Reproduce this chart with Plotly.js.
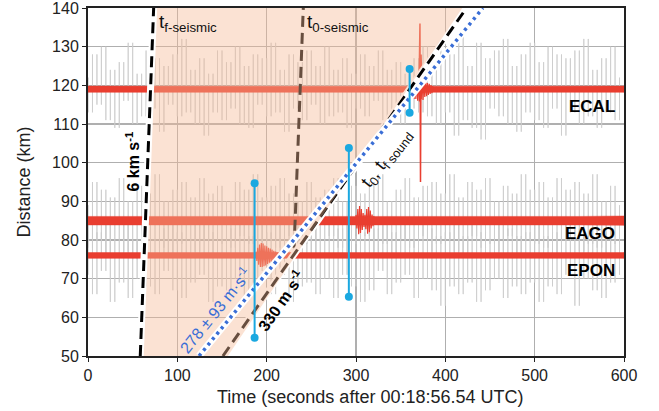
<!DOCTYPE html>
<html>
<head>
<meta charset="utf-8">
<script src="https://cdn.plot.ly/plotly-3.0.1.min.js"></script>
<style>html,body{margin:0;padding:0;background:#fff;}#chart{width:659px;height:411px;}</style>
</head>
<body>
<div id="chart"></div>
<script>
// ---------- data ----------
const stations = ["ECAL", "EAGO", "EPON"];
const stationDistance = [119, 85, 76];   // km
const sampleStep = 5;                     // s, sampling of seismic traces
// seismic (gray) trace peaks, km offset from station distance
const grayECAL = [3,-6,9,-4,11,-8,5,-10,7,-3,12,-9,4,-7,10,-5,8,-11,6,-4,
  9,-7,13,-6,5,-9,8,-12,4,-6,10,-8,7,-5,11,-9,6,-10,9,-4,
  8,-7,12,-6,5,-11,9,-5,7,-8,10,-4,6,-9,11,-7,5,-6,8,-10,
  4,-5,9,-7,6,-3,10,-8,5,-6,7,-9,4,-5,8,-6,11,-7,5,-9,
  10,-6,9,-12,14,-8,6,-10,12,-13,8,-5,10,-7,13,-9,6,-11,9,-6,
  12,-8,7,-10,11,-5,9,-12,8,-6,10,-9,13,-7,5,-10,8,-6,11,-8,3];
const grayEAGO = [4,-7,10,-5,8,-9,6,-4,11,-8,5,-10,9,-6,7,-4,12,-7,5,-9,
  8,-6,10,-4,6,-8,11,-5,7,-9,9,-6,5,-7,10,-4,8,-6,12,-8,
  6,-5,9,-7,11,-4,7,-8,5,-6,10,-9,6,-5,8,-4,11,-7,5,-8,
  9,-6,7,-4,10,-8,12,-6,5,-9,8,-5,11,-7,6,-4,9,-8,10,-6,
  7,-5,12,-8,6,-9,10,-4,8,-7,11,-6,5,-8,9,-4,7,-9,12,-5,
  8,-6,10,-7,6,-9,11,-5,8,-4,10,-8,7,-6,12,-7,5,-9,9,-6,4];
const grayEPON = [-5,8,-10,6,-4,9,-12,5,-7,8,-11,4,-6,9,-8,5,-10,7,-4,8,
  -9,6,-11,5,-7,8,-5,10,-12,6,-8,4,-9,7,-6,9,-11,5,-7,8,
  -4,6,-10,8,-5,9,-12,6,-8,5,-7,9,-10,4,-6,8,-11,7,-5,9,
  -8,5,-12,6,-9,7,-4,8,-10,6,-7,9,-5,4,-11,8,-6,7,-9,5,
  -13,6,-8,9,-10,5,-7,8,-12,6,-9,4,-6,9,-11,7,-8,5,-10,6,
  -7,9,-12,5,-8,6,-10,8,-5,9,-13,7,-6,5,-9,8,-11,6,-7,4,-5];
// infrasound (red) envelope half-widths, km, on a 50 s grid
const redT = [0,50,100,150,200,250,300,350,400,450,500,550,600];
const redHalfECAL = [0.8,0.75,0.75,0.75,0.75,0.75,0.75,0.75,0.8,0.8,0.8,0.8,0.8];
const redHalfEAGO = [1.1,1.1,1.0,1.0,1.0,1.0,1.0,1.1,1.0,1.0,1.1,1.1,1.2];
const redHalfEPON = [0.75,0.75,0.7,0.7,0.7,0.7,0.7,0.75,0.75,0.75,0.75,0.75,0.75];
// bursts (1 s samples, km offsets)
const burstECALStart = 362;
const burstECAL = [1,-1.5,2,-2.5,3,-2.5,3.2,-3,2.8,-3.2,3,-2.6,2.5,-2.8,2.2,-2,2.4,-1.8,1.6,-1.5,1.4,-1.2,1.1,-1,0.8];
const burstEAGOStart = 300;
const burstEAGO = [1.5,-2,3,-3.5,3.8,-3.2,3,-2.4,2,-1.6,1.5,-2.2,3,-3.4,3.5,-3,2.6,-2,1.6,-1.4,1.2];
const burstEPONStart = 188;
const burstEPON = [1,-1.4,2,-2.4,2.8,-3,3.2,-3,3.1,-2.8,2.6,-2.6,2.4,-2.2,2,-1.9,1.8,-1.6,1.5,-1.3,1.2,-1.1,1,-0.9,0.8];
const spikeECALT = [370.5,371.6,372.2,372.8,374];
const spikeECALOff = [0,17,-24,9,0];
// reference lines (time s, distance km)
const seis6T = [58.5, 73.5], seis6D = [50, 140];
const t0SeisT = [230.7, 241], t0SeisD = [78, 140];
const sound330T = [151, 423.7], sound330D = [50, 140];
const fit278T = [124.3, 442], fit278D = [50, 140];
const shadeT = [58.5, 73.5, 419, 156.5], shadeD = [50, 140, 140, 50];
// blue uncertainty bars
const barT = [186.5, 292, 360];
const barLo = [54.7, 65.3, 112.9];
const barHi = [94.7, 103.8, 124.2];
const xTicks = [0,100,200,300,400,500,600];
const yTicks = [50,60,70,80,90,100,110,120,130,140];

// ---------- build ----------
const RED = 'rgb(233,62,48)';
const traces = [];
// gray traces: each swing between successive peaks drawn as a vertical hairline
[grayECAL, grayEAGO, grayEPON].forEach((g, k) => {
  const c = stationDistance[k];
  const x = [], y = [];
  for (let i = 0; i < g.length - 1; i++) {
    const t = i * sampleStep;
    x.push(t, t, t, t); y.push(c, c + g[i], c + g[i + 1], c);
  }
  traces.push({x, y, mode: 'lines', line: {color: 'rgb(203,203,203)', width: 0.8}, hoverinfo: 'skip'});
});
function band(T, H, c) {
  const x = T.concat(T.slice().reverse());
  const y = T.map((_, i) => c + H[i]).concat(T.map((_, i) => c - H[i]).reverse());
  return {x, y, mode: 'lines', fill: 'toself', fillcolor: RED,
    line: {color: RED, width: 0.5}, hoverinfo: 'skip'};
}
function zig(start, vals, c) {
  return {x: vals.map((_, i) => start + i), y: vals.map(v => c + v), mode: 'lines',
    line: {color: RED, width: 1.2}, hoverinfo: 'skip'};
}
traces.push(band(redT, redHalfECAL, stationDistance[0]));
traces.push(band(redT, redHalfEAGO, stationDistance[1]));
traces.push(band(redT, redHalfEPON, stationDistance[2]));
traces.push(zig(burstECALStart, burstECAL, stationDistance[0]));
traces.push(zig(burstEAGOStart, burstEAGO, stationDistance[1]));
traces.push(zig(burstEPONStart, burstEPON, stationDistance[2]));
traces.push({x: spikeECALT, y: spikeECALOff.map(v => stationDistance[0] + v), mode: 'lines',
  line: {color: RED, width: 1.5}, hoverinfo: 'skip'});
// lines beneath the shading
traces.push({x: t0SeisT, y: t0SeisD, mode: 'lines', line: {color: '#000', width: 3, dash: '11px,6px'}, hoverinfo: 'skip'});
traces.push({x: sound330T, y: sound330D, mode: 'lines', line: {color: '#fff', width: 7}, hoverinfo: 'skip'});
traces.push({x: sound330T, y: sound330D, mode: 'lines', line: {color: '#000', width: 3, dash: '11px,6px'}, hoverinfo: 'skip'});
// shading
traces.push({x: shadeT.concat([shadeT[0]]), y: shadeD.concat([shadeD[0]]), mode: 'lines', fill: 'toself',
  fillcolor: 'rgba(246,185,150,0.42)', line: {width: 0, color: 'rgba(0,0,0,0)'}, hoverinfo: 'skip'});
// lines above the shading
traces.push({x: seis6T, y: seis6D, mode: 'lines', line: {color: '#fff', width: 7}, hoverinfo: 'skip'});
traces.push({x: seis6T, y: seis6D, mode: 'lines', line: {color: '#000', width: 3, dash: '11px,6px'}, hoverinfo: 'skip'});
traces.push({x: fit278T, y: fit278D, mode: 'lines', line: {color: '#fff', width: 7}, hoverinfo: 'skip'});
traces.push({x: fit278T, y: fit278D, mode: 'lines', line: {color: 'rgb(58,110,214)', width: 3.5, dash: '3px,4px'}, hoverinfo: 'skip'});
barT.forEach((t, i) => {
  traces.push({x: [t, t], y: [barLo[i], barHi[i]], mode: 'lines+markers',
    line: {color: 'rgb(26,168,224)', width: 2}, marker: {color: 'rgb(26,168,224)', size: 8}, hoverinfo: 'skip'});
});

const FONT = 'Liberation Sans, Arial, sans-serif';
const annotations = [
  {x: 77.5, y: 136.2, text: 't<sub>f-seismic</sub>', xanchor: 'left', yanchor: 'middle', font: {size: 19, color: '#111'}},
  {x: 242.5, y: 136.2, text: 't<sub>0-seismic</sub>', xanchor: 'left', yanchor: 'middle', font: {size: 19, color: '#111'}},
  {x: 50, y: 100.2, text: '<b>6 km s<sup>-1</sup></b>', textangle: -90, font: {size: 16, color: '#000'}},
  {x: 216, y: 64.5, text: '<b>330 m s<sup>-1</sup></b>', textangle: -55, font: {size: 16, color: '#000'}},
  {x: 142, y: 62, text: '278 ± 93 m·s<sup>-1</sup>', textangle: -51, font: {size: 16, color: 'rgb(58,110,214)'}},
  {x: 335, y: 101, text: 't<sub>0</sub>, t<sub>f sound</sub>', textangle: -52, font: {size: 18, color: '#111'}},
];
stations.forEach((s, i) => {
  annotations.push({x: 591.7, y: [114.4, 81.8, 72][i], text: '<b>' + s + '</b>', xanchor: 'right', yanchor: 'middle',
    font: {size: 17, color: '#000'}});
});
annotations.forEach(a => { a.showarrow = false; a.xref = 'x'; a.yref = 'y'; });
// x-axis title (placed slightly right of centre, as in the original)
annotations.push({xref: 'paper', yref: 'paper', x: 0.526, y: -0.118, xanchor: 'center', yanchor: 'middle',
  showarrow: false, text: 'Time (seconds after 00:18:56.54 UTC)', font: {size: 18, color: '#222'}});

const layout = {
  width: 659, height: 411,
  margin: {l: 88, r: 35, t: 8, b: 55},
  paper_bgcolor: '#fff', plot_bgcolor: '#fff',
  showlegend: false,
  font: {family: FONT, size: 16, color: '#222'},
  xaxis: {range: [0, 600], tickvals: xTicks, ticktext: xTicks.map(String), showgrid: true,
    gridcolor: 'rgb(175,175,175)', gridwidth: 1.5, zeroline: false,
    showline: true, linecolor: '#222', linewidth: 2, mirror: true, ticklabeloverflow: 'allow',
    ticks: 'outside', ticklen: 4, tickcolor: '#222', tickfont: {size: 16}},
  yaxis: {range: [50, 140], tickvals: yTicks, ticktext: yTicks.map(String), showgrid: true,
    gridcolor: 'rgb(175,175,175)', gridwidth: 1.5, zeroline: false,
    showline: true, linecolor: '#222', linewidth: 2, mirror: true, ticklabeloverflow: 'allow',
    ticks: 'outside', ticklen: 4, tickcolor: '#222', tickfont: {size: 16},
    title: {text: 'Distance (km)', font: {size: 18}, standoff: 17}},
  annotations
};
Plotly.newPlot('chart', traces, layout, {staticPlot: true, displayModeBar: false});
</script>
</body>
</html>
